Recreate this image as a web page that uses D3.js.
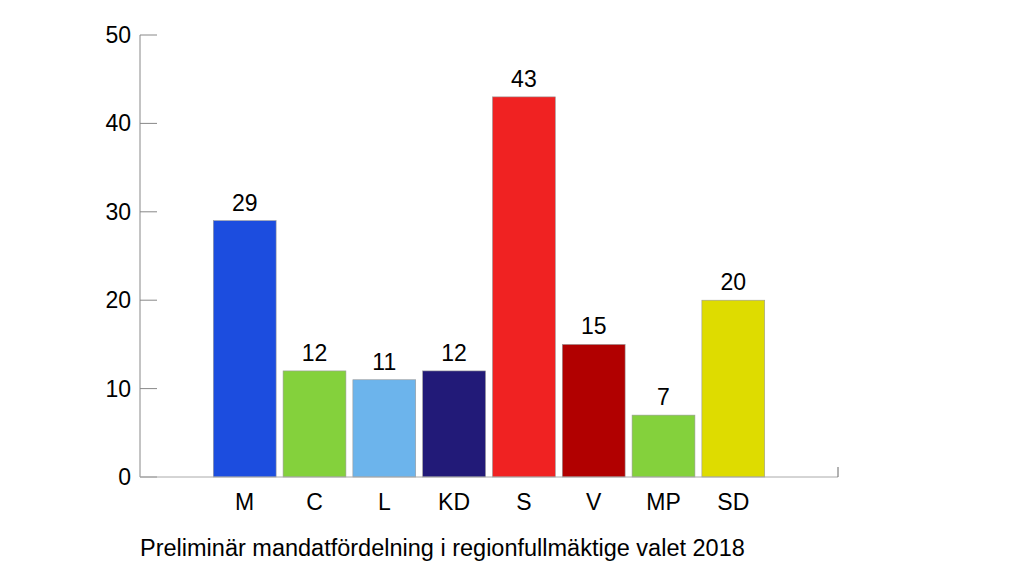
<!DOCTYPE html>
<html>
<head>
<meta charset="utf-8">
<script src="https://cdn.jsdelivr.net/npm/d3@7"></script>
<style>
  body { margin: 0; background: #fff; }
  text { font-family: "Liberation Sans", Arial, sans-serif; fill: #000; }
</style>
</head>
<body>
<div class="chart"></div>
<script>
const width = 1024
const height = 576

// data
const parties = ["M", "C", "L", "KD", "S", "V", "MP", "SD"]
const seats = [29, 12, 11, 12, 43, 15, 7, 20]
const colors = ["#1c4ddf", "#84d13c", "#6cb4ec", "#221a78", "#f02222", "#b10000", "#84d13c", "#dedc00"]
const yTicks = [0, 10, 20, 30, 40, 50]
const caption = "Preliminär mandatfördelning i regionfullmäktige valet 2018"

const plotLeft = 140, plotRight = 838, plotTop = 35, plotBottom = 477
const fontSize = 23

const svg = d3.select(".chart").append("svg")
    .attr("width", width)
    .attr("height", height)

// two empty slots, one on each side of the parties
const slots = ["_a", ...parties, "_b"]
const x = d3.scaleBand().domain(slots).range([plotLeft, plotRight]).paddingInner(0.1).paddingOuter(0.05)
const y = d3.scaleLinear().domain([0, 50]).range([plotBottom, plotTop])

// y axis
svg.append("line")
    .attr("x1", plotLeft).attr("x2", plotLeft)
    .attr("y1", plotTop).attr("y2", plotBottom)
    .attr("stroke", "#888").attr("stroke-width", 1)

svg.append("g").selectAll("line")
  .data(yTicks)
  .join("line")
    .attr("x1", plotLeft).attr("x2", plotLeft + 17)
    .attr("y1", d => y(d)).attr("y2", d => y(d))
    .attr("stroke", "#888")

svg.append("g").selectAll("text")
  .data(yTicks)
  .join("text")
    .attr("x", plotLeft - 9)
    .attr("y", d => y(d) + 8)
    .attr("text-anchor", "end")
    .attr("font-size", fontSize)
    .text(d => d)

// bars
svg.append("g").selectAll("rect")
  .data(parties)
  .join("rect")
    .attr("x", d => x(d))
    .attr("width", x.bandwidth())
    .attr("y", (d, i) => y(seats[i]))
    .attr("height", (d, i) => plotBottom - y(seats[i]))
    .attr("fill", (d, i) => colors[i])
    .attr("stroke", "#999")
    .attr("stroke-width", 0.6)

// value labels
svg.append("g").selectAll("text")
  .data(parties)
  .join("text")
    .attr("x", d => x(d) + x.bandwidth() / 2)
    .attr("y", (d, i) => y(seats[i]) - 10)
    .attr("text-anchor", "middle")
    .attr("font-size", fontSize)
    .text((d, i) => seats[i])

// x axis
svg.append("line")
    .attr("x1", plotLeft).attr("x2", plotRight)
    .attr("y1", plotBottom).attr("y2", plotBottom)
    .attr("stroke", "#aaa")
svg.append("line")
    .attr("x1", plotRight).attr("x2", plotRight)
    .attr("y1", plotBottom).attr("y2", plotBottom - 10)
    .attr("stroke", "#666")

svg.append("g").selectAll("text")
  .data(parties)
  .join("text")
    .attr("x", d => x(d) + x.bandwidth() / 2)
    .attr("y", plotBottom + 33)
    .attr("text-anchor", "middle")
    .attr("font-size", fontSize)
    .text(d => d)

svg.append("text")
    .attr("x", plotLeft)
    .attr("y", 556)
    .attr("font-size", 23.5)
    .text(caption)
</script>
</body>
</html>
